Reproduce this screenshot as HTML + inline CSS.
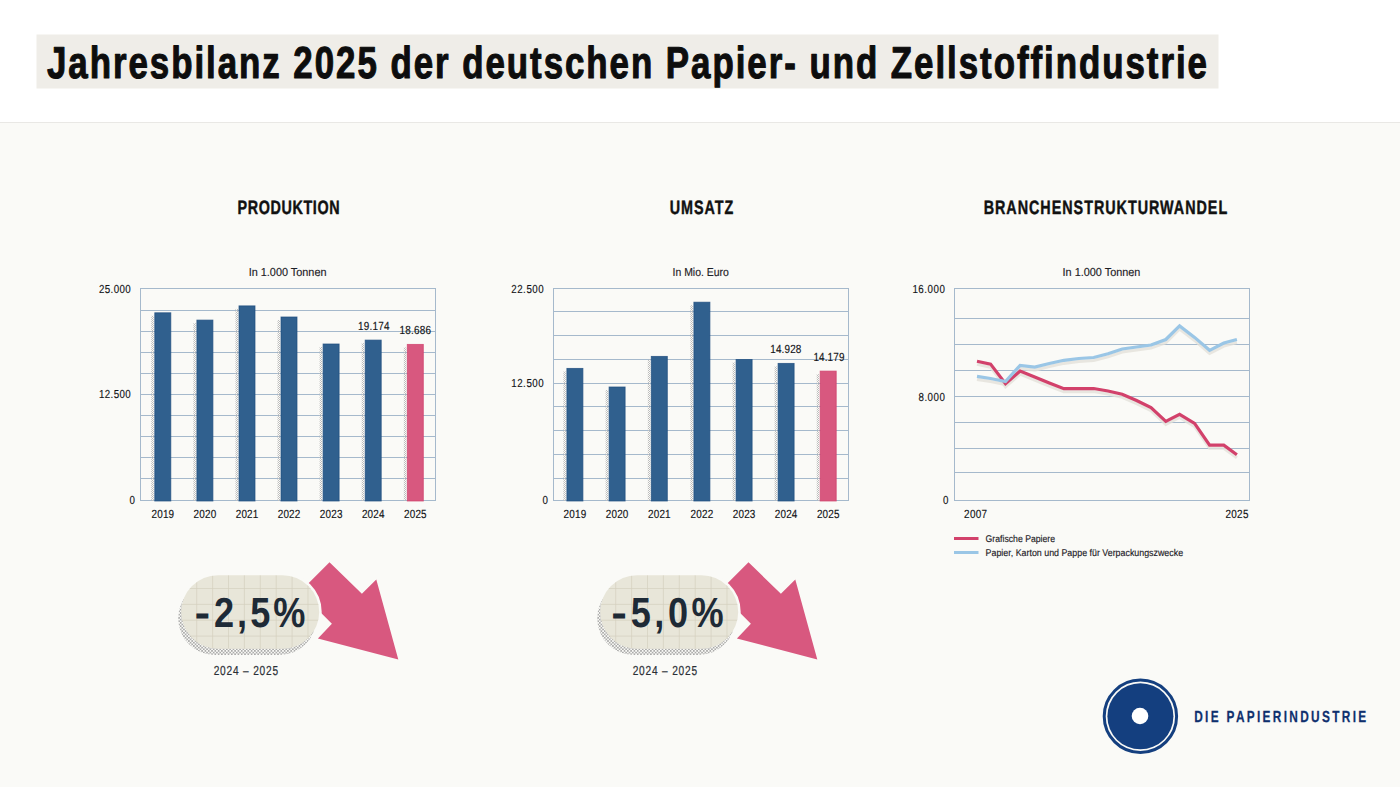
<!DOCTYPE html>
<html lang="de"><head><meta charset="utf-8"><title>Jahresbilanz 2025 der deutschen Papier- und Zellstoffindustrie</title>
<style>
html,body{margin:0;padding:0;background:#fafaf7;}
body{width:1400px;height:787px;overflow:hidden;}
svg{display:block;font-family:"Liberation Sans",Arial,sans-serif;}
text{text-rendering:geometricPrecision;}
</style></head><body>
<svg width="1400" height="787" viewBox="0 0 1400 787" fill="#111316">
<defs>
<pattern id="dots" width="2" height="2" patternUnits="userSpaceOnUse"><rect width="1" height="1" fill="#bdbdbd"/><rect x="1" y="1" width="1" height="1" fill="#bdbdbd"/></pattern>
<pattern id="dots2" width="3.3" height="3.3" patternUnits="userSpaceOnUse"><circle cx="0.82" cy="0.82" r="0.8" fill="#8e8e8e"/><circle cx="2.47" cy="2.47" r="0.8" fill="#8e8e8e"/></pattern>
</defs>
<rect x="0" y="0" width="1400" height="787" fill="#fafaf7"/>
<rect x="0" y="0" width="1400" height="122" fill="#ffffff"/>
<rect x="0" y="122" width="1400" height="1" fill="#e9e8e5"/>
<rect x="36.5" y="34.5" width="1182" height="54" fill="#efede8"/>
<text x="0" y="0" transform="translate(47.0,78.0) scale(0.78,1)" font-size="44.7" font-weight="bold" fill="#0d0d0d" textLength="1487.2" lengthAdjust="spacing" stroke="#0d0d0d" stroke-width="1.1" stroke-linejoin="round">Jahresbilanz 2025 der deutschen Papier- und Zellstoffindustrie</text>
<text x="0" y="0" transform="translate(288.6,214.1) scale(0.74,1)" font-size="19.4" text-anchor="middle" font-weight="bold" fill="#111111" textLength="137.8" lengthAdjust="spacing" stroke="#111111" stroke-width="0.45" stroke-linejoin="round">PRODUKTION</text>
<text x="0" y="0" transform="translate(701.5,214.1) scale(0.74,1)" font-size="19.4" text-anchor="middle" font-weight="bold" fill="#111111" textLength="85.8" lengthAdjust="spacing" stroke="#111111" stroke-width="0.45" stroke-linejoin="round">UMSATZ</text>
<text x="0" y="0" transform="translate(1105.4,214.1) scale(0.74,1)" font-size="19.4" text-anchor="middle" font-weight="bold" fill="#111111" textLength="329.1" lengthAdjust="spacing" stroke="#111111" stroke-width="0.45" stroke-linejoin="round">BRANCHENSTRUKTURWANDEL</text>
<text x="287.6" y="275.8" font-size="11.6" text-anchor="middle" fill="#1c2026" textLength="77.8" lengthAdjust="spacingAndGlyphs" stroke="#1c2026" stroke-width="0.15" stroke-linejoin="round">In 1.000 Tonnen</text>
<text x="700.7" y="275.8" font-size="11.6" text-anchor="middle" fill="#1c2026" textLength="56.3" lengthAdjust="spacingAndGlyphs" stroke="#1c2026" stroke-width="0.15" stroke-linejoin="round">In Mio. Euro</text>
<text x="1101.5" y="275.8" font-size="11.6" text-anchor="middle" fill="#1c2026" textLength="77.8" lengthAdjust="spacingAndGlyphs" stroke="#1c2026" stroke-width="0.15" stroke-linejoin="round">In 1.000 Tonnen</text>
<line x1="140" y1="310.5" x2="435" y2="310.5" stroke="#a5b9cc" stroke-width="1"/>
<line x1="140" y1="331.5" x2="435" y2="331.5" stroke="#a5b9cc" stroke-width="1"/>
<line x1="140" y1="352.5" x2="435" y2="352.5" stroke="#a5b9cc" stroke-width="1"/>
<line x1="140" y1="373.5" x2="435" y2="373.5" stroke="#a5b9cc" stroke-width="1"/>
<line x1="140" y1="394.5" x2="435" y2="394.5" stroke="#a5b9cc" stroke-width="1"/>
<line x1="140" y1="415.5" x2="435" y2="415.5" stroke="#a5b9cc" stroke-width="1"/>
<line x1="140" y1="436.5" x2="435" y2="436.5" stroke="#a5b9cc" stroke-width="1"/>
<line x1="140" y1="457.5" x2="435" y2="457.5" stroke="#a5b9cc" stroke-width="1"/>
<line x1="140" y1="478.5" x2="435" y2="478.5" stroke="#a5b9cc" stroke-width="1"/>
<rect x="140.5" y="288.5" width="295" height="212" fill="none" stroke="#a5b9cc" stroke-width="1"/>
<rect x="151.3" y="315.8" width="2.5" height="185.2" fill="url(#dots)"/>
<rect x="154.8" y="312.8" width="16" height="188.2" fill="#30608e"/>
<rect x="154.8" y="312.8" width="16" height="188.2" fill="none" stroke="#1f4d80" stroke-width="0.9" opacity="0.8"/>
<rect x="193.4" y="323.1" width="2.5" height="177.9" fill="url(#dots)"/>
<rect x="196.9" y="320.1" width="16" height="180.9" fill="#30608e"/>
<rect x="196.9" y="320.1" width="16" height="180.9" fill="none" stroke="#1f4d80" stroke-width="0.9" opacity="0.8"/>
<rect x="235.5" y="308.9" width="2.5" height="192.1" fill="url(#dots)"/>
<rect x="239.0" y="305.9" width="16" height="195.1" fill="#30608e"/>
<rect x="239.0" y="305.9" width="16" height="195.1" fill="none" stroke="#1f4d80" stroke-width="0.9" opacity="0.8"/>
<rect x="277.5" y="320.0" width="2.5" height="181.0" fill="url(#dots)"/>
<rect x="281.0" y="317.0" width="16" height="184.0" fill="#30608e"/>
<rect x="281.0" y="317.0" width="16" height="184.0" fill="none" stroke="#1f4d80" stroke-width="0.9" opacity="0.8"/>
<rect x="319.6" y="347.0" width="2.5" height="154.0" fill="url(#dots)"/>
<rect x="323.1" y="344.0" width="16" height="157.0" fill="#30608e"/>
<rect x="323.1" y="344.0" width="16" height="157.0" fill="none" stroke="#1f4d80" stroke-width="0.9" opacity="0.8"/>
<rect x="361.7" y="343.1" width="2.5" height="157.9" fill="url(#dots)"/>
<rect x="365.2" y="340.1" width="16" height="160.9" fill="#30608e"/>
<rect x="365.2" y="340.1" width="16" height="160.9" fill="none" stroke="#1f4d80" stroke-width="0.9" opacity="0.8"/>
<rect x="403.8" y="347.4" width="2.5" height="153.6" fill="url(#dots)"/>
<rect x="407.3" y="344.4" width="16" height="156.6" fill="#d8587f"/>
<rect x="407.3" y="344.4" width="16" height="156.6" fill="none" stroke="#d0406c" stroke-width="0.9" opacity="0.8"/>
<text x="0" y="0" transform="translate(162.8,518.2) scale(0.84,1)" font-size="11.8" text-anchor="middle" textLength="26.9" lengthAdjust="spacing" stroke="#111316" stroke-width="0.15" stroke-linejoin="round">2019</text>
<text x="0" y="0" transform="translate(204.9,518.2) scale(0.84,1)" font-size="11.8" text-anchor="middle" textLength="26.9" lengthAdjust="spacing" stroke="#111316" stroke-width="0.15" stroke-linejoin="round">2020</text>
<text x="0" y="0" transform="translate(247.0,518.2) scale(0.84,1)" font-size="11.8" text-anchor="middle" textLength="26.9" lengthAdjust="spacing" stroke="#111316" stroke-width="0.15" stroke-linejoin="round">2021</text>
<text x="0" y="0" transform="translate(289.0,518.2) scale(0.84,1)" font-size="11.8" text-anchor="middle" textLength="26.9" lengthAdjust="spacing" stroke="#111316" stroke-width="0.15" stroke-linejoin="round">2022</text>
<text x="0" y="0" transform="translate(331.1,518.2) scale(0.84,1)" font-size="11.8" text-anchor="middle" textLength="26.9" lengthAdjust="spacing" stroke="#111316" stroke-width="0.15" stroke-linejoin="round">2023</text>
<text x="0" y="0" transform="translate(373.2,518.2) scale(0.84,1)" font-size="11.8" text-anchor="middle" textLength="26.9" lengthAdjust="spacing" stroke="#111316" stroke-width="0.15" stroke-linejoin="round">2024</text>
<text x="0" y="0" transform="translate(415.3,518.2) scale(0.84,1)" font-size="11.8" text-anchor="middle" textLength="26.9" lengthAdjust="spacing" stroke="#111316" stroke-width="0.15" stroke-linejoin="round">2025</text>
<text x="0" y="0" transform="translate(130.6,293.0) scale(0.84,1)" font-size="11.6" text-anchor="end" textLength="37.5" lengthAdjust="spacing" stroke="#111316" stroke-width="0.15" stroke-linejoin="round">25.000</text>
<text x="0" y="0" transform="translate(130.6,398.0) scale(0.84,1)" font-size="11.6" text-anchor="end" textLength="37.5" lengthAdjust="spacing" stroke="#111316" stroke-width="0.15" stroke-linejoin="round">12.500</text>
<text x="0" y="0" transform="translate(135.0,504.0) scale(0.84,1)" font-size="11.6" text-anchor="end" textLength="6.7" lengthAdjust="spacing" stroke="#111316" stroke-width="0.15" stroke-linejoin="round">0</text>
<text x="0" y="0" transform="translate(358.0,329.8) scale(0.84,1)" font-size="11.8" textLength="37.5" lengthAdjust="spacing" stroke="#111316" stroke-width="0.15" stroke-linejoin="round">19.174</text>
<text x="0" y="0" transform="translate(399.5,333.9) scale(0.84,1)" font-size="11.8" textLength="37.5" lengthAdjust="spacing" stroke="#111316" stroke-width="0.15" stroke-linejoin="round">18.686</text>
<line x1="553" y1="311.5" x2="848" y2="311.5" stroke="#a5b9cc" stroke-width="1"/>
<line x1="553" y1="335.5" x2="848" y2="335.5" stroke="#a5b9cc" stroke-width="1"/>
<line x1="553" y1="359.5" x2="848" y2="359.5" stroke="#a5b9cc" stroke-width="1"/>
<line x1="553" y1="383.5" x2="848" y2="383.5" stroke="#a5b9cc" stroke-width="1"/>
<line x1="553" y1="406.5" x2="848" y2="406.5" stroke="#a5b9cc" stroke-width="1"/>
<line x1="553" y1="430.5" x2="848" y2="430.5" stroke="#a5b9cc" stroke-width="1"/>
<line x1="553" y1="454.5" x2="848" y2="454.5" stroke="#a5b9cc" stroke-width="1"/>
<line x1="553" y1="478.5" x2="848" y2="478.5" stroke="#a5b9cc" stroke-width="1"/>
<rect x="553.5" y="288.5" width="295" height="212" fill="none" stroke="#a5b9cc" stroke-width="1"/>
<rect x="563.4" y="371.4" width="2.5" height="129.6" fill="url(#dots)"/>
<rect x="566.9" y="368.4" width="16" height="132.6" fill="#30608e"/>
<rect x="566.9" y="368.4" width="16" height="132.6" fill="none" stroke="#1f4d80" stroke-width="0.9" opacity="0.8"/>
<rect x="605.6" y="390.0" width="2.5" height="111.0" fill="url(#dots)"/>
<rect x="609.1" y="387.0" width="16" height="114.0" fill="#30608e"/>
<rect x="609.1" y="387.0" width="16" height="114.0" fill="none" stroke="#1f4d80" stroke-width="0.9" opacity="0.8"/>
<rect x="647.8" y="359.4" width="2.5" height="141.6" fill="url(#dots)"/>
<rect x="651.3" y="356.4" width="16" height="144.6" fill="#30608e"/>
<rect x="651.3" y="356.4" width="16" height="144.6" fill="none" stroke="#1f4d80" stroke-width="0.9" opacity="0.8"/>
<rect x="690.4" y="305.2" width="2.5" height="195.8" fill="url(#dots)"/>
<rect x="693.9" y="302.2" width="16" height="198.8" fill="#30608e"/>
<rect x="693.9" y="302.2" width="16" height="198.8" fill="none" stroke="#1f4d80" stroke-width="0.9" opacity="0.8"/>
<rect x="732.6" y="362.5" width="2.5" height="138.5" fill="url(#dots)"/>
<rect x="736.1" y="359.5" width="16" height="141.5" fill="#30608e"/>
<rect x="736.1" y="359.5" width="16" height="141.5" fill="none" stroke="#1f4d80" stroke-width="0.9" opacity="0.8"/>
<rect x="774.6" y="366.4" width="2.5" height="134.6" fill="url(#dots)"/>
<rect x="778.1" y="363.4" width="16" height="137.6" fill="#30608e"/>
<rect x="778.1" y="363.4" width="16" height="137.6" fill="none" stroke="#1f4d80" stroke-width="0.9" opacity="0.8"/>
<rect x="816.7" y="374.1" width="2.5" height="126.9" fill="url(#dots)"/>
<rect x="820.2" y="371.1" width="16" height="129.9" fill="#d8587f"/>
<rect x="820.2" y="371.1" width="16" height="129.9" fill="none" stroke="#d0406c" stroke-width="0.9" opacity="0.8"/>
<text x="0" y="0" transform="translate(574.9,518.2) scale(0.84,1)" font-size="11.8" text-anchor="middle" textLength="26.9" lengthAdjust="spacing" stroke="#111316" stroke-width="0.15" stroke-linejoin="round">2019</text>
<text x="0" y="0" transform="translate(617.1,518.2) scale(0.84,1)" font-size="11.8" text-anchor="middle" textLength="26.9" lengthAdjust="spacing" stroke="#111316" stroke-width="0.15" stroke-linejoin="round">2020</text>
<text x="0" y="0" transform="translate(659.3,518.2) scale(0.84,1)" font-size="11.8" text-anchor="middle" textLength="26.9" lengthAdjust="spacing" stroke="#111316" stroke-width="0.15" stroke-linejoin="round">2021</text>
<text x="0" y="0" transform="translate(701.9,518.2) scale(0.84,1)" font-size="11.8" text-anchor="middle" textLength="26.9" lengthAdjust="spacing" stroke="#111316" stroke-width="0.15" stroke-linejoin="round">2022</text>
<text x="0" y="0" transform="translate(744.1,518.2) scale(0.84,1)" font-size="11.8" text-anchor="middle" textLength="26.9" lengthAdjust="spacing" stroke="#111316" stroke-width="0.15" stroke-linejoin="round">2023</text>
<text x="0" y="0" transform="translate(786.1,518.2) scale(0.84,1)" font-size="11.8" text-anchor="middle" textLength="26.9" lengthAdjust="spacing" stroke="#111316" stroke-width="0.15" stroke-linejoin="round">2024</text>
<text x="0" y="0" transform="translate(828.2,518.2) scale(0.84,1)" font-size="11.8" text-anchor="middle" textLength="26.9" lengthAdjust="spacing" stroke="#111316" stroke-width="0.15" stroke-linejoin="round">2025</text>
<text x="0" y="0" transform="translate(543.7,292.7) scale(0.84,1)" font-size="11.6" text-anchor="end" textLength="38.7" lengthAdjust="spacing" stroke="#111316" stroke-width="0.15" stroke-linejoin="round">22.500</text>
<text x="0" y="0" transform="translate(543.7,387.2) scale(0.84,1)" font-size="11.6" text-anchor="end" textLength="38.7" lengthAdjust="spacing" stroke="#111316" stroke-width="0.15" stroke-linejoin="round">12.500</text>
<text x="0" y="0" transform="translate(548.0,504.4) scale(0.84,1)" font-size="11.6" text-anchor="end" textLength="6.7" lengthAdjust="spacing" stroke="#111316" stroke-width="0.15" stroke-linejoin="round">0</text>
<text x="0" y="0" transform="translate(770.3,352.9) scale(0.84,1)" font-size="11.8" textLength="36.9" lengthAdjust="spacing" stroke="#111316" stroke-width="0.15" stroke-linejoin="round">14.928</text>
<text x="0" y="0" transform="translate(813.4,360.7) scale(0.84,1)" font-size="11.8" textLength="36.9" lengthAdjust="spacing" stroke="#111316" stroke-width="0.15" stroke-linejoin="round">14.179</text>
<line x1="954" y1="318.5" x2="1249" y2="318.5" stroke="#a5b9cc" stroke-width="1"/>
<line x1="954" y1="344.5" x2="1249" y2="344.5" stroke="#a5b9cc" stroke-width="1"/>
<line x1="954" y1="370.5" x2="1249" y2="370.5" stroke="#a5b9cc" stroke-width="1"/>
<line x1="954" y1="396.5" x2="1249" y2="396.5" stroke="#a5b9cc" stroke-width="1"/>
<line x1="954" y1="422.5" x2="1249" y2="422.5" stroke="#a5b9cc" stroke-width="1"/>
<line x1="954" y1="448.5" x2="1249" y2="448.5" stroke="#a5b9cc" stroke-width="1"/>
<line x1="954" y1="472.5" x2="1249" y2="472.5" stroke="#a5b9cc" stroke-width="1"/>
<rect x="954.5" y="288.5" width="295" height="212" fill="none" stroke="#a5b9cc" stroke-width="1"/>
<text x="0" y="0" transform="translate(944.9,292.7) scale(0.84,1)" font-size="11.6" text-anchor="end" textLength="38.7" lengthAdjust="spacing" stroke="#111316" stroke-width="0.15" stroke-linejoin="round">16.000</text>
<text x="0" y="0" transform="translate(944.9,400.6) scale(0.84,1)" font-size="11.6" text-anchor="end" textLength="31.5" lengthAdjust="spacing" stroke="#111316" stroke-width="0.15" stroke-linejoin="round">8.000</text>
<text x="0" y="0" transform="translate(948.5,504.4) scale(0.84,1)" font-size="11.6" text-anchor="end" textLength="6.7" lengthAdjust="spacing" stroke="#111316" stroke-width="0.15" stroke-linejoin="round">0</text>
<text x="0" y="0" transform="translate(975.6,518.0) scale(0.84,1)" font-size="11.8" text-anchor="middle" textLength="27.4" lengthAdjust="spacing" stroke="#111316" stroke-width="0.15" stroke-linejoin="round">2007</text>
<text x="0" y="0" transform="translate(1236.9,518.0) scale(0.84,1)" font-size="11.8" text-anchor="middle" textLength="27.4" lengthAdjust="spacing" stroke="#111316" stroke-width="0.15" stroke-linejoin="round">2025</text>
<polyline points="977.0,379.3 990.6,381.5 1005.5,384.5 1020.1,368.4 1034.7,370.1 1049.3,366.5 1063.9,363.3 1078.8,361.5 1093.7,360.5 1108.0,356.7 1122.2,352.0 1136.6,350.0 1151.0,348.0 1165.8,342.5 1179.6,328.9 1194.6,340.4 1209.6,353.3 1223.8,346.0 1236.9,342.5" fill="none" stroke="#e4e1da" stroke-width="3.2" stroke-linejoin="miter" opacity="0.8"/>
<polyline points="977.0,364.3 990.6,367.1 1005.5,386.7 1020.1,374.0 1034.7,380.0 1049.3,386.0 1063.9,391.7 1078.8,391.6 1093.7,391.5 1108.0,394.0 1122.2,397.3 1136.6,403.5 1151.0,410.6 1165.8,424.4 1179.6,417.3 1194.6,426.4 1209.6,448.2 1223.8,448.2 1236.9,457.7" fill="none" stroke="#e4e1da" stroke-width="3.2" stroke-linejoin="miter" opacity="0.8"/>
<polyline points="977.0,361.3 990.6,364.1 1005.5,383.7 1020.1,371.0 1034.7,377.0 1049.3,383.0 1063.9,388.7 1078.8,388.6 1093.7,388.5 1108.0,391.0 1122.2,394.3 1136.6,400.5 1151.0,407.6 1165.8,421.4 1179.6,414.3 1194.6,423.4 1209.6,445.2 1223.8,445.2 1236.9,454.7" fill="none" stroke="#d2416b" stroke-width="3.2" stroke-linejoin="miter"/>
<polyline points="977.0,376.3 990.6,378.5 1005.5,381.5 1020.1,365.4 1034.7,367.1 1049.3,363.5 1063.9,360.3 1078.8,358.5 1093.7,357.5 1108.0,353.7 1122.2,349.0 1136.6,347.0 1151.0,345.0 1165.8,339.5 1179.6,325.9 1194.6,337.4 1209.6,350.3 1223.8,343.0 1236.9,339.5" fill="none" stroke="#9ac6e6" stroke-width="3.2" stroke-linejoin="miter"/>
<rect x="954" y="537" width="24.5" height="3" fill="#d2416b"/>
<rect x="954" y="551" width="24.5" height="3" fill="#9ac6e6"/>
<text x="985.6" y="541.7" font-size="9.8" fill="#1c2026" textLength="69.5" lengthAdjust="spacingAndGlyphs" stroke="#1c2026" stroke-width="0.15" stroke-linejoin="round">Grafische Papiere</text>
<text x="985.6" y="555.7" font-size="9.8" fill="#1c2026" textLength="197.5" lengthAdjust="spacingAndGlyphs" stroke="#1c2026" stroke-width="0.15" stroke-linejoin="round">Papier, Karton und Pappe für Verpackungszwecke</text>
<polygon points="329.5,562.3 361.9,593.8 376.3,579.4 398.3,659.5 317.9,638.5 331.9,623.7 300.0,591.8" fill="#d8587f"/>
<rect x="181.2" y="575.2" width="138" height="73.6" rx="36.8" ry="36.8" fill="#fafaf7" stroke="#fafaf7" stroke-width="5"/>
<rect x="178.2" y="581.5" width="138" height="73.6" rx="36.8" ry="36.8" fill="url(#dots2)"/>
<rect x="181.2" y="575.2" width="138" height="73.6" rx="36.8" ry="36.8" fill="#e8e6d9"/>
<clipPath id="pill0"><rect x="181.2" y="575.2" width="138" height="73.6" rx="36.8" ry="36.8"/></clipPath>
<g clip-path="url(#pill0)" stroke="#d4d0be" stroke-width="0.7">
<line x1="196.7" y1="575.2" x2="196.7" y2="648.8000000000001"/>
<line x1="212.6" y1="575.2" x2="212.6" y2="648.8000000000001"/>
<line x1="228.5" y1="575.2" x2="228.5" y2="648.8000000000001"/>
<line x1="244.4" y1="575.2" x2="244.4" y2="648.8000000000001"/>
<line x1="260.3" y1="575.2" x2="260.3" y2="648.8000000000001"/>
<line x1="276.2" y1="575.2" x2="276.2" y2="648.8000000000001"/>
<line x1="292.1" y1="575.2" x2="292.1" y2="648.8000000000001"/>
<line x1="308.0" y1="575.2" x2="308.0" y2="648.8000000000001"/>
<line x1="323.9" y1="575.2" x2="323.9" y2="648.8000000000001"/>
<line x1="181.2" y1="588.5" x2="319.2" y2="588.5"/>
<line x1="181.2" y1="604.4" x2="319.2" y2="604.4"/>
<line x1="181.2" y1="620.2" x2="319.2" y2="620.2"/>
<line x1="181.2" y1="636.1" x2="319.2" y2="636.1"/>
</g>
<text x="0" y="0" transform="translate(194.4,627.4) scale(1.12,1)" font-size="42" font-weight="bold" fill="#1e2a36">-</text>
<text x="0" y="0" transform="translate(213.9,627.4) scale(0.86,1)" font-size="42" font-weight="bold" fill="#1e2a36" textLength="106.5" lengthAdjust="spacing">2,5%</text>
<text x="0" y="0" transform="translate(245.9,674.8) scale(0.78,1)" font-size="13" text-anchor="middle" fill="#2a2f36" textLength="82.7" lengthAdjust="spacing" stroke="#2a2f36" stroke-width="0.2" stroke-linejoin="round">2024 – 2025</text>
<polygon points="748.5,562.3 780.9,593.8 795.3,579.4 817.3,659.5 736.9,638.5 750.9,623.7 719.0,591.8" fill="#d8587f"/>
<rect x="600.2" y="575.2" width="138" height="73.6" rx="36.8" ry="36.8" fill="#fafaf7" stroke="#fafaf7" stroke-width="5"/>
<rect x="597.2" y="581.5" width="138" height="73.6" rx="36.8" ry="36.8" fill="url(#dots2)"/>
<rect x="600.2" y="575.2" width="138" height="73.6" rx="36.8" ry="36.8" fill="#e8e6d9"/>
<clipPath id="pill419"><rect x="600.2" y="575.2" width="138" height="73.6" rx="36.8" ry="36.8"/></clipPath>
<g clip-path="url(#pill419)" stroke="#d4d0be" stroke-width="0.7">
<line x1="615.7" y1="575.2" x2="615.7" y2="648.8000000000001"/>
<line x1="631.6" y1="575.2" x2="631.6" y2="648.8000000000001"/>
<line x1="647.5" y1="575.2" x2="647.5" y2="648.8000000000001"/>
<line x1="663.4" y1="575.2" x2="663.4" y2="648.8000000000001"/>
<line x1="679.3" y1="575.2" x2="679.3" y2="648.8000000000001"/>
<line x1="695.2" y1="575.2" x2="695.2" y2="648.8000000000001"/>
<line x1="711.1" y1="575.2" x2="711.1" y2="648.8000000000001"/>
<line x1="727.0" y1="575.2" x2="727.0" y2="648.8000000000001"/>
<line x1="742.9" y1="575.2" x2="742.9" y2="648.8000000000001"/>
<line x1="600.2" y1="588.5" x2="738.2" y2="588.5"/>
<line x1="600.2" y1="604.4" x2="738.2" y2="604.4"/>
<line x1="600.2" y1="620.2" x2="738.2" y2="620.2"/>
<line x1="600.2" y1="636.1" x2="738.2" y2="636.1"/>
</g>
<text x="0" y="0" transform="translate(611.3,627.4) scale(1.12,1)" font-size="42" font-weight="bold" fill="#1e2a36">-</text>
<text x="0" y="0" transform="translate(630.8,627.4) scale(0.86,1)" font-size="42" font-weight="bold" fill="#1e2a36" textLength="107.9" lengthAdjust="spacing">5,0%</text>
<text x="0" y="0" transform="translate(664.9,674.8) scale(0.78,1)" font-size="13" text-anchor="middle" fill="#2a2f36" textLength="82.7" lengthAdjust="spacing" stroke="#2a2f36" stroke-width="0.2" stroke-linejoin="round">2024 – 2025</text>
<circle cx="1140.4" cy="716.3" r="36.2" fill="none" stroke="#143f7f" stroke-width="3"/>
<circle cx="1140.4" cy="716.3" r="33" fill="#143f7f"/>
<circle cx="1140" cy="716" r="8.3" fill="#ffffff"/>
<text x="0" y="0" transform="translate(1194.2,721.8) scale(0.74,1)" font-size="16" font-weight="bold" fill="#0f306e" textLength="232.4" lengthAdjust="spacing" stroke="#0f306e" stroke-width="0.25" stroke-linejoin="round">DIE PAPIERINDUSTRIE</text>
</svg>
</body></html>
